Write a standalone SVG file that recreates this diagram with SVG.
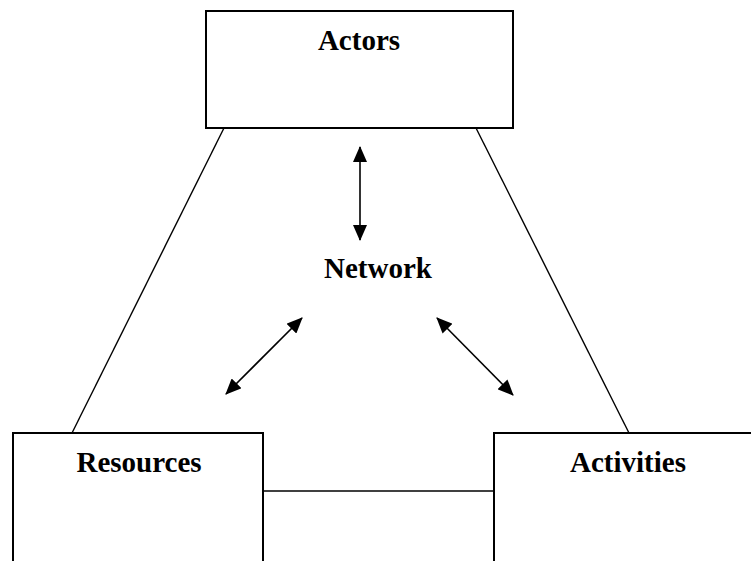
<svg xmlns="http://www.w3.org/2000/svg" width="751" height="561" viewBox="0 0 751 561">
<style>
.box{fill:#fff;stroke:#000;stroke-width:2}
.lbl{font-family:"Liberation Serif","Times New Roman",serif;font-weight:bold;font-size:29px;fill:#000;text-anchor:middle}
.ln{stroke:#000;stroke-width:1.4;fill:none}
.arr{stroke:#000;stroke-width:1.6;fill:none;marker-start:url(#ah);marker-end:url(#ah)}
</style>
<defs>
<marker id="ah" markerUnits="userSpaceOnUse" viewBox="0 0 16 14" refX="15" refY="7" markerWidth="16" markerHeight="14" orient="auto-start-reverse">
<path d="M0,0 L16,7 L0,14 Z" fill="#000"/>
</marker>
</defs>
<rect width="751" height="561" fill="#fff"/>
<g id="connectors">
<line class="ln" x1="225" y1="126" x2="72" y2="433"/>
<line class="ln" x1="475" y1="126" x2="629" y2="433"/>
<line class="ln" x1="263" y1="491" x2="494" y2="491"/>
<line class="arr" x1="360" y1="147" x2="360" y2="240"/>
<line class="arr" x1="302" y1="318" x2="226" y2="394"/>
<line class="arr" x1="437" y1="318" x2="513" y2="395"/>
</g>
<g id="actors">
<rect class="box" x="206" y="11" width="307" height="117"/>
<text class="lbl" x="359" y="50">Actors</text>
</g>
<g id="network">
<text class="lbl" x="378" y="278">Network</text>
</g>
<g id="resources">
<rect class="box" x="13" y="433" width="250" height="140"/>
<text class="lbl" x="139" y="472">Resources</text>
</g>
<g id="activities">
<rect class="box" x="494" y="433" width="270" height="140"/>
<text class="lbl" x="628" y="472">Activities</text>
</g>
</svg>
